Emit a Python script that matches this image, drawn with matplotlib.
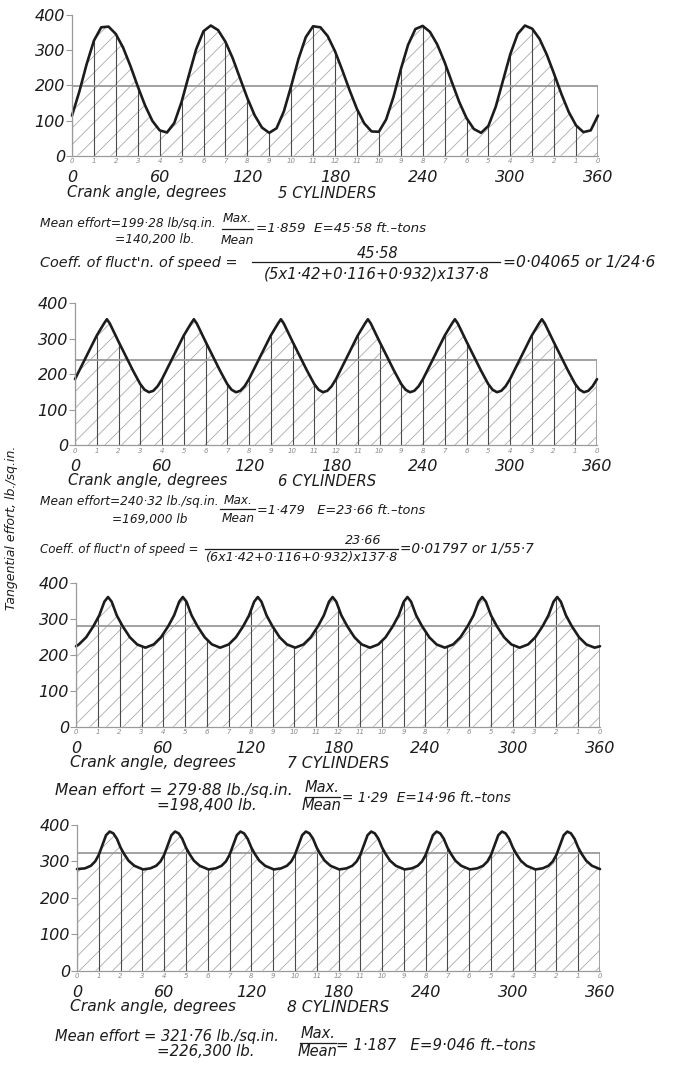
import numpy as np
import matplotlib
matplotlib.use("Agg")
import matplotlib.pyplot as plt

plt.rcParams['font.family'] = ['DejaVu Sans']
plt.rcParams['hatch.linewidth'] = 0.6

# ---------------------------------------------------------------------------
# Tangential effort (lb./sq.in.) against crank angle (degrees)
# ---------------------------------------------------------------------------
angle_5cyl = np.arange(0, 361, 5)
effort_5cyl = [114, 182, 260, 327, 365, 367, 346, 307, 255, 197,
               143, 99, 72, 66, 93, 153, 229, 303, 354, 370,
               357, 324, 277, 220, 164, 115, 80, 65, 78, 126,
               198, 275, 337, 368, 365, 340, 297, 243, 186, 133,
               92, 69, 68, 103, 167, 245, 315, 360, 369, 352,
               316, 266, 209, 153, 107, 76, 65, 85, 139, 214,
               289, 346, 370, 361, 332, 287, 232, 175, 124, 86,
               67, 72, 114]

angle_6cyl = [0, 5, 10, 15, 20, 22, 24, 30, 35, 40, 45, 48, 51, 54, 57,
              60, 65, 70, 75, 80, 82, 84, 90, 95, 100, 105, 108, 111, 114, 117,
              120, 125, 130, 135, 140, 142, 144, 150, 155, 160, 165, 168, 171, 174, 177,
              180, 185, 190, 195, 200, 202, 204, 210, 215, 220, 225, 228, 231, 234, 237,
              240, 245, 250, 255, 260, 262, 264, 270, 275, 280, 285, 288, 291, 294, 297,
              300, 305, 310, 315, 320, 322, 324, 330, 335, 340, 345, 348, 351, 354, 357,
              360]
effort_6cyl = [186, 227, 268, 309, 343, 355, 343, 292, 251, 210, 172, 156, 149, 153, 166,
               186, 227, 268, 309, 343, 355, 343, 292, 251, 210, 172, 156, 149, 153, 166,
               186, 227, 268, 309, 343, 355, 343, 292, 251, 210, 172, 156, 149, 153, 166,
               186, 227, 268, 309, 343, 355, 343, 292, 251, 210, 172, 156, 149, 153, 166,
               186, 227, 268, 309, 343, 355, 343, 292, 251, 210, 172, 156, 149, 153, 166,
               186, 227, 268, 309, 343, 355, 343, 292, 251, 210, 172, 156, 149, 153, 166,
               186]

angle_7cyl = [0, 2, 7, 12, 16, 19.5, 22, 24.5, 28, 32, 37, 42, 47.7,
              53.4, 58.4, 63.4, 67.4, 70.9, 73.4, 75.9, 79.4, 83.4, 88.4, 93.4, 99.1,
              104.9, 109.9, 114.9, 118.9, 122.4, 124.9, 127.4, 130.9, 134.9, 139.9, 144.9, 150.6,
              156.3, 161.3, 166.3, 170.3, 173.8, 176.3, 178.8, 182.3, 186.3, 191.3, 196.3, 202.0,
              207.7, 212.7, 217.7, 221.7, 225.2, 227.7, 230.2, 233.7, 237.7, 242.7, 247.7, 253.4,
              259.1, 264.1, 269.1, 273.1, 276.6, 279.1, 281.6, 285.1, 289.1, 294.1, 299.1, 304.8,
              310.6, 315.6, 320.6, 324.6, 328.1, 330.6, 333.1, 336.6, 340.6, 345.6, 350.6, 356.3,
              360]
effort_7cyl = [224, 229, 249, 280, 310, 348, 361, 348, 310, 280, 249, 229, 220,
               229, 249, 280, 310, 348, 361, 348, 310, 280, 249, 229, 220,
               229, 249, 280, 310, 348, 361, 348, 310, 280, 249, 229, 220,
               229, 249, 280, 310, 348, 361, 348, 310, 280, 249, 229, 220,
               229, 249, 280, 310, 348, 361, 348, 310, 280, 249, 229, 220,
               229, 249, 280, 310, 348, 361, 348, 310, 280, 249, 229, 220,
               229, 249, 280, 310, 348, 361, 348, 310, 280, 249, 229, 220,
               224]

angle_8cyl = [0, 5.5, 9.5, 12.5, 15, 17.5, 20,
              22.5, 25, 27.5, 30, 32.5, 35.5, 39.5, 45.5, 50.5, 54.5, 57.5, 60, 62.5, 65,
              67.5, 70, 72.5, 75, 77.5, 80.5, 84.5, 90.5, 95.5, 99.5, 102.5, 105, 107.5, 110,
              112.5, 115, 117.5, 120, 122.5, 125.5, 129.5, 135.5, 140.5, 144.5, 147.5, 150, 152.5, 155,
              157.5, 160, 162.5, 165, 167.5, 170.5, 174.5, 180.5, 185.5, 189.5, 192.5, 195, 197.5, 200,
              202.5, 205, 207.5, 210, 212.5, 215.5, 219.5, 225.5, 230.5, 234.5, 237.5, 240, 242.5, 245,
              247.5, 250, 252.5, 255, 257.5, 260.5, 264.5, 270.5, 275.5, 279.5, 282.5, 285, 287.5, 290,
              292.5, 295, 297.5, 300, 302.5, 305.5, 309.5, 315.5, 320.5, 324.5, 327.5, 330, 332.5, 335,
              337.5, 340, 342.5, 345, 347.5, 350.5, 354.5, 360]
effort_8cyl = [279, 281, 288, 300, 318, 345, 372,
               382, 377, 362, 338, 320, 302, 288, 278, 281, 288, 300, 318, 345, 372,
               382, 377, 362, 338, 320, 302, 288, 278, 281, 288, 300, 318, 345, 372,
               382, 377, 362, 338, 320, 302, 288, 278, 281, 288, 300, 318, 345, 372,
               382, 377, 362, 338, 320, 302, 288, 278, 281, 288, 300, 318, 345, 372,
               382, 377, 362, 338, 320, 302, 288, 278, 281, 288, 300, 318, 345, 372,
               382, 377, 362, 338, 320, 302, 288, 278, 281, 288, 300, 318, 345, 372,
               382, 377, 362, 338, 320, 302, 288, 278, 281, 288, 300, 318, 345, 372,
               382, 377, 362, 338, 320, 302, 288, 279]

mean_effort = [199.28, 240.32, 279.88, 321.76]
cylinder_labels = ["5 CYLINDERS", "6 CYLINDERS", "7 CYLINDERS", "8 CYLINDERS"]

# Ordinates every 15 deg, numbered by piston position out and back
ordinate_angles = np.arange(0, 361, 15)
ordinate_labels = ["0", "1", "2", "3", "4", "5", "6", "7", "8", "9", "10", "11", "12",
                   "11", "10", "9", "8", "7", "6", "5", "4", "3", "2", "1", "0"]
angle_ticks = [0, 60, 120, 180, 240, 300, 360]
effort_ticks = [0, 100, 200, 300, 400]

# ---------------------------------------------------------------------------
W, H = 680, 1065
fig = plt.figure(figsize=(W / 100, H / 100), dpi=100)
fig.patch.set_facecolor('white')


def fx(x):
    return x / W


def fy(y):
    return 1 - y / H


INK = '#1c1c1c'
GREY = '#9a9a9a'

# axes frames in pixels: left, right, zero line, 400 line
frames = [(72, 598, 155.7, 15.0),
          (75, 597, 445.0, 303.3),
          (76, 600, 726.7, 583.0),
          (77, 600, 970.7, 825.0)]

series = [(angle_5cyl, effort_5cyl), (angle_6cyl, effort_6cyl),
          (angle_7cyl, effort_7cyl), (angle_8cyl, effort_8cyl)]

for (l, r, y0, y4), (ang, eff), mean in zip(frames, series, mean_effort):
    ax = fig.add_axes([fx(l), fy(y0), (r - l) / W, (y0 - y4) / H])
    ax.set_xlim(0, 360)
    ax.set_ylim(0, 400)
    ax.patch.set_alpha(0)
    ang = np.asarray(ang, dtype=float)
    eff = np.asarray(eff, dtype=float)

    ax.fill_between(ang, 0, eff, facecolor='none', edgecolor='#aaaaaa',
                    hatch='//', linewidth=0)
    heights = np.interp(ordinate_angles, ang, eff)
    ax.vlines(ordinate_angles, 0, heights, colors='#4a4a4a', lw=0.8)
    ax.plot([0, 360], [mean, mean], color=GREY, lw=1.3)
    ax.plot([360, 360], [0, mean], color=GREY, lw=1.3)
    ax.plot(ang, eff, color=INK, lw=1.9, solid_joinstyle='round',
            solid_capstyle='round', clip_on=False)

    for s in ('top', 'right'):
        ax.spines[s].set_visible(False)
    for s in ('left', 'bottom'):
        ax.spines[s].set_color(GREY)
        ax.spines[s].set_linewidth(0.9)

    ax.set_yticks(effort_ticks, [str(v) for v in effort_ticks],
                  fontstyle='italic')
    ax.tick_params(axis='y', direction='out', length=4, width=0.8, color=GREY,
                   labelsize=11.5, labelcolor=INK, pad=1)

    ax.xaxis.remove_overlapping_locs = False
    ax.set_xticks(angle_ticks, [str(v) for v in angle_ticks],
                  fontstyle='italic')
    ax.set_xticks(ordinate_angles, ordinate_labels, minor=True,
                  fontstyle='italic')
    ax.tick_params(axis='x', which='major', length=0, pad=10,
                   labelsize=11.5, labelcolor=INK)
    ax.tick_params(axis='x', which='minor', length=0, pad=2,
                   labelsize=5, labelcolor='#8a8a8a')


def txt(x, y, s, size=9, ha='left', **kw):
    fig.text(fx(x), fy(y), s, fontsize=size, ha=ha, va='center',
             style='italic', color=INK, **kw)


def bar(x0, x1, y, lw=0.9):
    fig.add_artist(plt.Line2D([fx(x0), fx(x1)], [fy(y), fy(y)],
                              transform=fig.transFigure, color=INK, lw=lw))


# axis captions under each panel
caption_rows = [(67, 278, 193, 10.7), (68, 278, 481, 10.7),
                (70, 287, 763, 11.2), (70, 287, 1007, 11.2)]
for (xa, xc, yc, fs), cyl in zip(caption_rows, cylinder_labels):
    txt(xa, yc, "Crank angle, degrees", size=fs)
    txt(xc, yc, cyl, size=fs)

# 5 cylinders
txt(40, 224, "Mean effort=199\u00b728 lb/sq.in.", size=8.8)
txt(115, 240, "=140,200 lb.", size=8.8)
txt(237, 219, "Max.", size=8.8, ha='center')
bar(222, 253, 229)
txt(237, 240, "Mean", size=8.8, ha='center')
txt(256, 229, "=1\u00b7859  E=45\u00b758 ft.\u2013tons", size=9.6)
txt(40, 263, "Coeff. of fluct'n. of speed =", size=10.4)
txt(378, 253, "45\u00b758", size=10.5, ha='center')
bar(252, 500, 262)
txt(377, 274, "(5x1\u00b742+0\u00b7116+0\u00b7932)x137\u00b78", size=10.8, ha='center')
txt(503, 263, "=0\u00b704065 or 1/24\u00b76", size=11.2)

# 6 cylinders
txt(40, 502, "Mean effort=240\u00b732 lb./sq.in.", size=8.7)
txt(112, 519, "=169,000 lb", size=8.7)
txt(238, 500, "Max.", size=8.7, ha='center')
bar(220, 255, 509)
txt(238, 519, "Mean", size=8.7, ha='center')
txt(257, 510, "=1\u00b7479   E=23\u00b766 ft.\u2013tons", size=9.3)
txt(40, 549, "Coeff. of fluct'n of speed =", size=8.6)
txt(363, 540, "23\u00b766", size=9.2, ha='center')
bar(205, 398, 549)
txt(301, 558, "(6x1\u00b742+0\u00b7116+0\u00b7932)x137\u00b78", size=9.2, ha='center')
txt(400, 548, "=0\u00b701797 or 1/55\u00b77", size=9.8)

# 7 cylinders
txt(55, 790, "Mean effort = 279\u00b788 lb./sq.in.", size=11.2)
txt(157, 806, "=198,400 lb.", size=11)
txt(322, 788, "Max.", size=10.5, ha='center')
bar(305, 340, 797)
txt(322, 806, "Mean", size=10.5, ha='center')
txt(342, 798, "= 1\u00b729  E=14\u00b796 ft.\u2013tons", size=9.8)

# 8 cylinders
txt(55, 1036, "Mean effort = 321\u00b776 lb./sq.in.", size=10.5)
txt(157, 1052, "=226,300 lb.", size=10.8)
txt(318, 1034, "Max.", size=10.5, ha='center')
bar(300, 336, 1043)
txt(318, 1052, "Mean", size=10.5, ha='center')
txt(336, 1045, "= 1\u00b7187   E=9\u00b7046 ft.\u2013tons", size=10.8)

# shared vertical axis title
fig.text(fx(12), fy(528), "Tangential effort, lb./sq.in.", rotation=90,
         fontsize=9, style='italic', color=INK, ha='center', va='center')

fig.savefig("out.png", dpi=100, facecolor='white')
